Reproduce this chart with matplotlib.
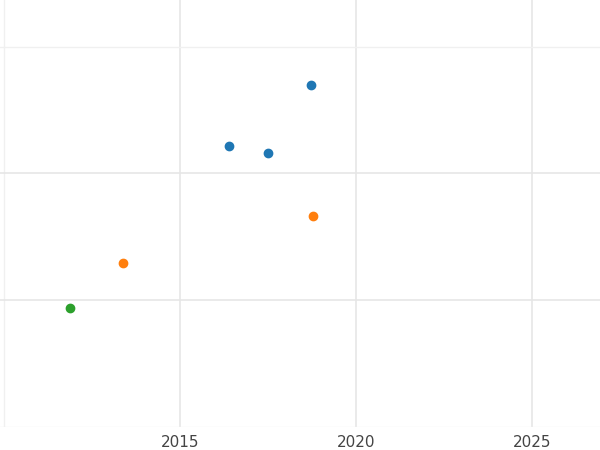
import matplotlib
matplotlib.use("Agg")
import matplotlib.pyplot as plt

blue_x = [2018.72, 2016.39, 2017.50]
blue_y = [2.70, 2.22, 2.16]
orange_x = [2018.78, 2013.38]
orange_y = [1.66, 1.29]
green_x = [2011.88]
green_y = [0.94]
xticks = [2015, 2020, 2025]

fig = plt.figure(figsize=(6, 4.5), dpi=100)
ax = fig.add_axes([0, 0.052, 1, 0.948])
ax.set_xlim(2009.89, 2026.93)
ax.set_ylim(0, 3.37)
ax.set_xticks(xticks)
ax.set_yticks([1, 2])
ax.set_yticks([0, 3], minor=True)
ax.grid(True, which='major', color='#e6e6e6', lw=1.2)
ax.grid(True, which='minor', axis='y', color='#f0f0f0', lw=1.0)
ax.set_yticklabels([])
ax.tick_params(which='both', length=0)
ax.tick_params(axis='x', labelsize=11, labelcolor='#444444', pad=6)
for s in ax.spines.values():
    s.set_visible(False)
ax.axvline(2010, color='#f0f0f0', lw=1.0, zorder=0)
ax.set_axisbelow(True)
ax.scatter(blue_x, blue_y, color='#1f77b4', s=36, zorder=3)
ax.scatter(orange_x, orange_y, color='#ff7f0e', s=36, zorder=3)
ax.scatter(green_x, green_y, color='#2ca02c', s=36, zorder=3)
fig.savefig("out.png")
